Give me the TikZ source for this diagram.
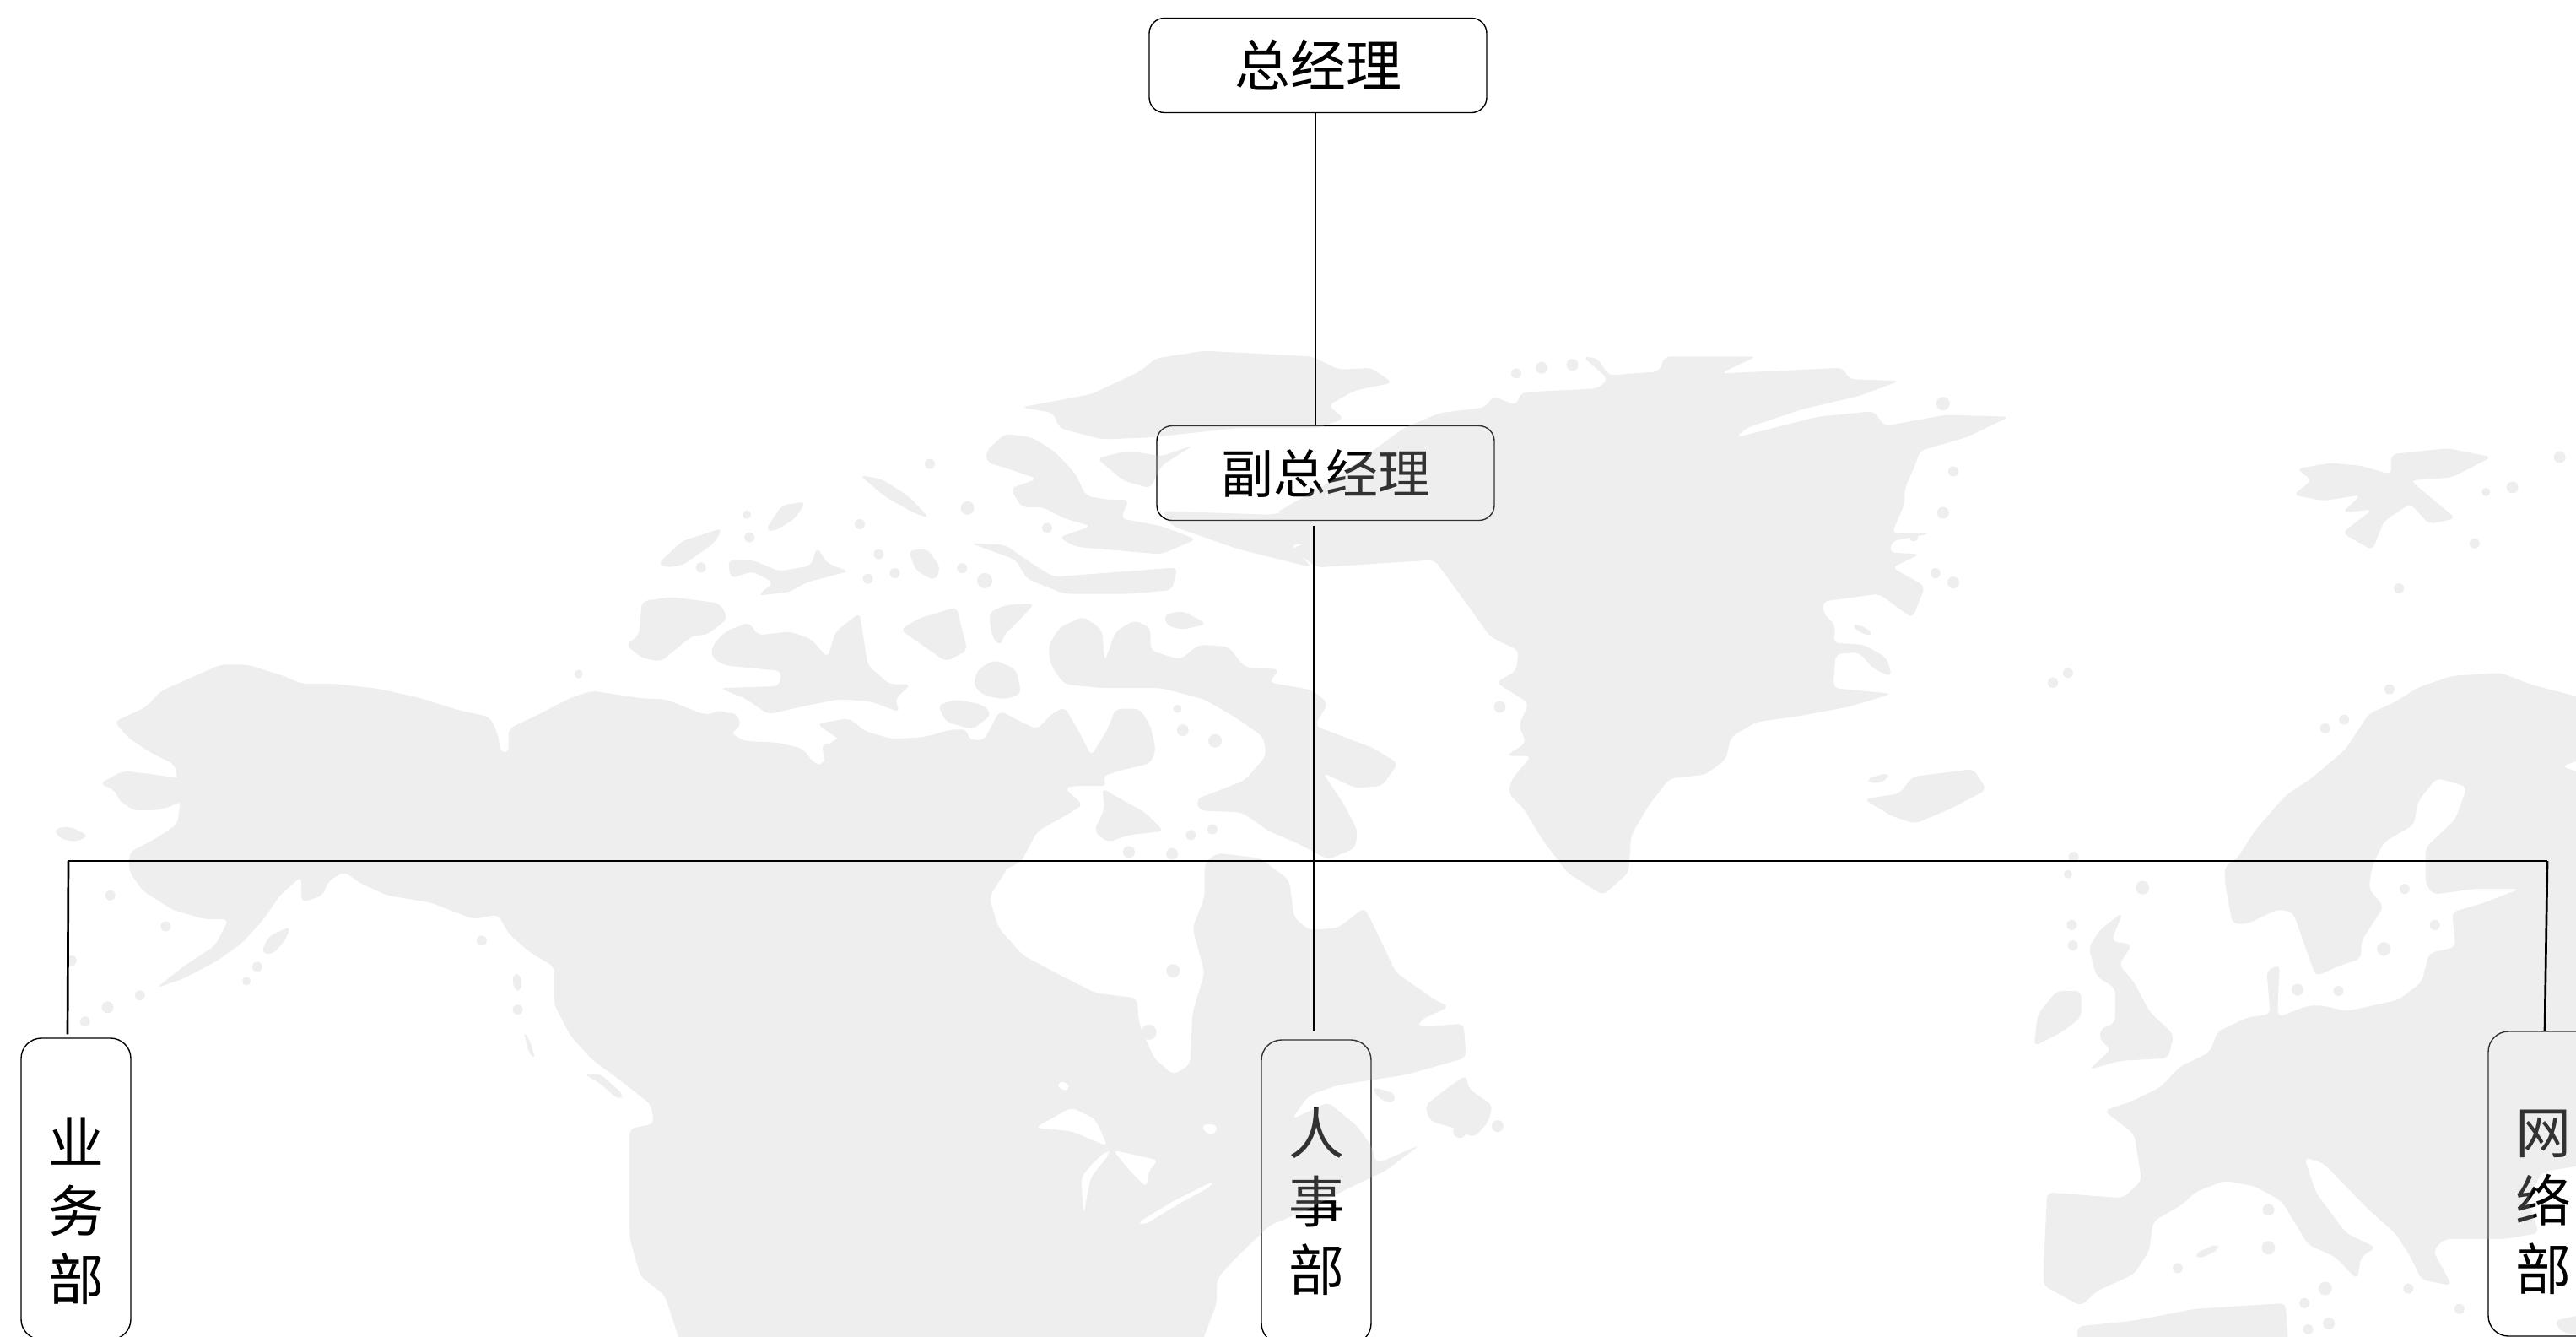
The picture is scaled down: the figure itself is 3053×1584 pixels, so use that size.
\documentclass[tikz,border=0pt]{standalone}
\usepackage{fontspec}
\newfontfamily\cjk{Noto Sans CJK SC}
\definecolor{mapshade}{gray}{0.76}
\newcommand\deptlabel[2]{\raisebox{#1}[0pt][0pt]{\parbox[c]{90pt}{\centering\baselineskip=81pt #2\par}}}
\newcommand\isles[1]{\foreach \a/\b/\r in {#1}{\fill (\a,\b) circle[radius=\r pt];}}
\tikzset{
  topbox/.style={draw=black,line width=1.4pt,rounded corners=18pt,inner sep=0pt,minimum width=400pt,minimum height=112pt,font=\cjk\fontsize{66}{81}\selectfont,text=black},
  deptbox/.style={draw=black,line width=1.4pt,rounded corners=24pt,inner sep=0pt,minimum width=130pt,font=\cjk\fontsize{66}{81}\selectfont,text=black},
  conn/.style={draw=black,line width=2.7pt},
  land/.style={fill=mapshade,rounded corners=7pt,even odd rule}
}
\begin{document}
\begin{tikzpicture}[x=1pt,y=-1pt]
\useasboundingbox (0,0) rectangle (3053,1584);
\fill[white] (0,0) rectangle (3053,1584);
% boxes
\node[topbox] (gm) at (1562,77.5) {总经理};
\node[topbox,font=\cjk\fontsize{62}{81}\selectfont] (dgm) at (1571,560.5) {副总经理};
\node[deptbox,minimum height=357pt] (sales) at (90,1408.5) {\deptlabel{-32pt}{业\\务\\部}};
\node[deptbox,minimum height=360pt] (hr) at (1560,1412) {\deptlabel{-18pt}{人\\事\\部}};
\node[deptbox,minimum height=361pt] (net) at (3014,1402.5) {\deptlabel{-28pt}{网\\络\\部}};
% map watermark, over the boxes and under the connectors
\begin{scope}[transparency group,opacity=.263]
\begin{scope}[land]
% ---- zoom frame 5: Alaska and the west coast
\begin{scope}[shift={(0,700)},x=.6378pt,y=-.5638pt,every path/.style={land}]
\fill (212,275)--(270,245)--(300,210)--(370,175)--(410,155)--(460,155)--(530,180)--(560,195)--(620,195)--(700,205)--(780,225)--(850,250)--(910,265)--(925,300)--(930,340)--(945,340)--(945,290)--(1000,260)--(1060,225)--(1100,210)--(1170,222)--(1240,235)--(1310,262)--(1340,250)--(1375,270)--(1355,295)--(1380,315)--(1440,320)--(1490,330)--(1515,365)--(1530,365)--(1540,320)--(1568,305)--(1600,300)--(1600,1600)--(1270,1600)--(1235,1480)--(1190,1440)--(1170,1360)--(1170,1130)--(1215,1120)--(1210,1080)--(1160,1035)--(1100,985)--(1060,935)--(1030,870)--(1030,790)--(985,760)--(945,720)--(925,680)--(880,690)--(800,655)--(720,640)--(670,615)--(640,590)--(610,610)--(600,640)--(560,655)--(560,600)--(520,640)--(490,690)--(450,740)--(400,780)--(340,815)--(290,835)--(340,790)--(400,745)--(425,690)--(380,690)--(320,670)--(265,630)--(240,590)--(240,550)--(290,520)--(330,490)--(335,440)--(330,400)--(325,365)--(280,340)--(240,310)--cycle;
\fill (185,405)--(230,378)--(280,385)--(340,395)--(345,440)--(300,460)--(250,462)--(220,440)--(215,420)--cycle;
\fill (100,500)--(130,495)--(165,515)--(140,528)--(110,520)--cycle;
\fill (485,760)--(500,725)--(540,705)--(530,735)--(505,765)--cycle;
\fill (952,805)--(968,805)--(970,840)--(955,840)--cycle;
\fill (973,925)--(985,945)--(995,985)--(982,970)--cycle;
\fill (1085,1015)--(1115,1015)--(1160,1060)--(1150,1070)--(1115,1035)--cycle;
\isles{205/640/6,308/705/6,133/777/6,260/850/6,200/875/7,158/905/6,478/790/6,458/820/5,895/735/6,962/880/6,1075/175/5}
\end{scope}
% ---- zoom frame 6: Arctic archipelago
\begin{scope}[shift={(700,400)},x=.638pt,y=-.4464pt,every path/.style={land}]
\fill (0,935)--(60,955)--(140,960)--(210,1000)--(270,995)--(280,1030)--(260,1050)--(270,1070)--(350,1075)--(390,1090)--(415,1140)--(435,1140)--(430,1075)--(480,1085)--(420,1025)--(480,1010)--(510,1045)--(560,1065)--(620,1060)--(670,1040)--(700,1040)--(700,1065)--(730,1070)--(760,990)--(800,1020)--(830,1040)--(855,1000)--(880,980)--(905,1040)--(930,1110)--(960,1040)--(975,985)--(1020,985)--(1040,1030)--(1050,1095)--(1040,1130)--(980,1150)--(950,1165)--(960,1190)--(900,1190)--(880,1195)--(915,1240)--(880,1270)--(830,1310)--(800,1390)--(760,1420)--(730,1500)--(735,1568)--(0,1568)--cycle;
\fill (950,1195)--(985,1225)--(1030,1260)--(1065,1310)--(1000,1320)--(960,1340)--(935,1310)--(955,1250)--cycle;
\fill (850,820)--(870,770)--(915,740)--(950,775)--(955,860)--(975,780)--(1010,750)--(1040,770)--(1040,830)--(1095,855)--(1130,815)--(1185,820)--(1215,875)--(1280,880)--(1260,915)--(1340,935)--(1370,970)--(1345,1030)--(1400,1060)--(1455,1090)--(1500,1130)--(1470,1190)--(1420,1195)--(1360,1155)--(1400,1240)--(1425,1310)--(1420,1355)--(1370,1385)--(1310,1340)--(1260,1310)--(1210,1260)--(1130,1255)--(1125,1225)--(1215,1175)--(1255,1110)--(1250,1060)--(1200,1010)--(1140,960)--(1060,930)--(950,930)--(880,920)--(855,870)--cycle;
\fill (95,700)--(150,688)--(240,705)--(255,745)--(215,790)--(190,790)--(130,860)--(95,850)--(65,815)--(90,790)--cycle;
\fill (225,820)--(250,780)--(295,755)--(310,790)--(370,780)--(410,800)--(440,850)--(455,780)--(500,730)--(505,780)--(515,870)--(555,920)--(595,920)--(565,960)--(575,995)--(520,965)--(460,960)--(390,980)--(330,1000)--(290,960)--(240,930)--(350,925)--(355,885)--(250,870)--(225,850)--cycle;
\fill (575,775)--(610,745)--(680,715)--(690,775)--(700,830)--(660,860)--(620,820)--cycle;
\fill (740,730)--(770,710)--(825,705)--(790,760)--(770,785)--(760,820)--(745,790)--cycle;
\fill (720,880)--(750,855)--(790,880)--(800,945)--(770,960)--(730,950)--(710,920)--cycle;
\fill (645,975)--(680,960)--(730,975)--(745,1000)--(710,1040)--(660,1020)--cycle;
\fill (1065,735)--(1100,725)--(1145,760)--(1100,775)--(1070,765)--cycle;
\fill (705,545)--(770,550)--(820,600)--(860,635)--(1090,610)--(1080,670)--(1000,680)--(880,680)--(810,640)--(790,590)--cycle;
\fill (255,590)--(300,590)--(350,620)--(410,605)--(420,555)--(440,600)--(480,620)--(400,650)--(370,675)--(310,685)--(340,650)--(300,620)--(260,640)--cycle;
\fill (125,600)--(170,540)--(245,505)--(230,545)--(170,605)--(140,610)--cycle;
\fill (325,510)--(355,445)--(400,435)--(380,480)--(340,515)--cycle;
\fill (590,565)--(625,560)--(650,610)--(640,645)--(605,620)--cycle;
\fill (500,365)--(540,375)--(590,420)--(630,480)--(600,465)--(545,420)--cycle;
\fill (735,300)--(770,255)--(820,265)--(860,300)--(900,360)--(920,420)--(960,430)--(1000,430)--(985,480)--(1060,500)--(1125,535)--(1060,575)--(900,555)--(870,530)--(930,500)--(880,480)--(840,450)--(800,450)--(780,400)--(830,375)--(780,350)--(735,330)--cycle;
\fill (800,185)--(930,150)--(1020,90)--(1050,55)--(1140,35)--(1340,50)--(1390,85)--(1450,80)--(1490,120)--(1420,140)--(1370,180)--(1400,215)--(1350,240)--(1200,240)--(1040,265)--(950,270)--(870,240)--(860,200)--cycle;
\fill (940,320)--(1000,300)--(1060,315)--(1120,285)--(1060,340)--(1040,400)--(990,380)--cycle;
\fill (1060,460)--(1265,470)--(1340,445)--(1400,420)--(1400,520)--(1345,545)--(1300,550)--(1340,610)--(1200,560)--(1080,500)--cycle;
\isles{295/530/6,290/470/5,205/610/6,500/495/6,515/640/6,535/575/6,565/625/6,690/612/6,732/645/9,630/335/6,700/452/8,848/505/6,1090/985/5,1100/1042/7,1160/1070/8,1115/1320/6,1155/1305/6,1080/1370/7,1000/1365/7}
\end{scope}
% ---- zoom frame 7: eastern Canada and the United States
\begin{scope}[shift={(1000,950)},x=.5740pt,y=-.4043pt,every path/.style={land}]
\fill (-10,200)--(340,190)--(300,280)--(320,370)--(370,450)--(450,510)--(520,560)--(605,575)--(610,650)--(640,750)--(680,800)--(715,770)--(720,620)--(745,500)--(720,370)--(745,280)--(745,180)--(770,150)--(860,165)--(920,230)--(930,340)--(960,375)--(1020,370)--(1075,310)--(1100,380)--(1140,500)--(1220,580)--(1250,600)--(1190,640)--(1185,660)--(1280,650)--(1285,750)--(1160,800)--(1090,815)--(1020,830)--(960,860)--(925,930)--(1000,880)--(1060,950)--(1090,1010)--(1100,1060)--(1150,1030)--(1190,1005)--(1120,1080)--(1045,1130)--(950,1200)--(880,1240)--(800,1350)--(770,1400)--(770,1470)--(735,1600)--(-10,1600)--cycle
 (395,955)--(470,895)--(520,930)--(545,1010)--(470,965)--cycle
 (545,1020)--(520,1050)--(490,1100)--(495,1210)--(510,1100)--(550,1030)--cycle
 (555,1020)--(650,1050)--(630,1080)--(625,1130)--(590,1080)--cycle
 (605,1235)--(680,1170)--(765,1110)--(760,1125)--(690,1180)--(620,1240)--cycle
 (738,945)--(772,945)--(768,975)--(748,975)--cycle
 (440,820)--(462,820)--(468,845)--(445,845)--cycle;
\fill (1200,890)--(1245,840)--(1285,800)--(1290,840)--(1340,890)--(1330,940)--(1300,985)--(1270,960)--(1210,935)--cycle;
\fill (1090,835)--(1140,855)--(1135,885)--(1105,870)--cycle;
\isles{630/675/9,680/495/8,1272/965/8,1350/950/7}
\end{scope}
% ---- zoom frame 8: Greenland and Iceland
\begin{scope}[shift={(1500,400)},x=.6059pt,y=-.4464pt,every path/.style={land}]
\fill (500,145)--(650,135)--(670,110)--(620,50)--(650,55)--(670,100)--(770,90)--(780,50)--(960,50)--(890,95)--(1130,80)--(1140,110)--(1240,115)--(1160,155)--(1050,190)--(940,240)--(920,265)--(1080,210)--(1190,195)--(1210,235)--(1330,205)--(1455,210)--(1370,265)--(1280,300)--(1270,340)--(1250,400)--(1250,440)--(1225,520)--(1300,520)--(1225,540)--(1220,570)--(1280,575)--(1225,610)--(1290,660)--(1265,745)--(1200,680)--(1090,700)--(1090,730)--(1115,765)--(1110,810)--(1170,815)--(1215,850)--(1225,900)--(1190,880)--(1160,835)--(1115,840)--(1110,930)--(1225,945)--(1140,980)--(1040,1005)--(960,1020)--(910,1060)--(900,1120)--(860,1160)--(790,1170)--(750,1240)--(715,1320)--(710,1420)--(660,1480)--(590,1420)--(540,1330)--(505,1250)--(475,1210)--(480,1175)--(520,1110)--(470,1110)--(510,1075)--(495,1030)--(515,970)--(450,915)--(490,885)--(495,830)--(440,795)--(390,700)--(330,590)--(100,610)--(50,560)--(130,520)--(140,495)--(20,465)--(130,380)--(270,240)--(340,200)--(430,185)--(445,155)--(490,180)--cycle;
\fill (1265,1165)--(1385,1145)--(1410,1200)--(1340,1250)--(1270,1290)--(1225,1270)--(1170,1225)--(1240,1210)--cycle;
\fill (1175,1170)--(1220,1155)--(1215,1175)--(1185,1185)--cycle;
\fill (1145,765)--(1160,760)--(1190,785)--(1175,792)--cycle;
\isles{490/95/6,540/80/7,600/72/7,1325/175/8,1345/355/6,1325/465/7,1310/625/6,1345/650/7,458/980/7,1540/915/6,1268/530/5}
\end{scope}
% ---- zoom frame 9: Europe
\begin{scope}[shift={(2350,500)},x=.4483pt,y=-.6913pt,every path/.style={land}]
\fill (640,760)--(670,750)--(720,700)--(800,640)--(870,610)--(960,560)--(1020,500)--(1090,480)--(1150,455)--(1240,435)--(1370,430)--(1450,450)--(1568,470)--(1620,470)--(1620,570)--(1530,590)--(1620,610)--(1620,1270)--(1480,1285)--(1440,1330)--(1470,1390)--(1380,1400)--(1220,1400)--(1190,1420)--(1240,1480)--(1160,1470)--(1130,1430)--(1090,1390)--(1020,1350)--(900,1270)--(850,1260)--(880,1320)--(960,1390)--(1040,1415)--(1000,1430)--(990,1470)--(930,1430)--(860,1410)--(790,1335)--(720,1310)--(640,1300)--(560,1320)--(530,1340)--(450,1370)--(440,1420)--(400,1460)--(300,1490)--(260,1515)--(160,1480)--(160,1450)--(170,1320)--(370,1330)--(420,1300)--(400,1220)--(320,1180)--(390,1165)--(470,1140)--(520,1105)--(600,1080)--(620,1045)--(700,1020)--(760,1015)--(750,940)--(785,930)--(780,990)--(780,1020)--(860,1000)--(900,1000)--(960,1010)--(1100,990)--(1160,960)--(1180,910)--(1250,900)--(1240,840)--(1320,825)--(1420,800)--(1300,800)--(1190,810)--(1170,790)--(1170,730)--(1250,680)--(1280,625)--(1200,610)--(1150,650)--(1140,690)--(1060,720)--(1030,760)--(1020,800)--(1060,830)--(1000,890)--(1000,920)--(950,930)--(880,950)--(820,840)--(780,835)--(700,860)--(660,860)--(640,790)--cycle;
\fill (1510,1540)--(1620,1525)--(1620,1568)--(1530,1560)--cycle;
\fill (250,1550)--(400,1540)--(560,1520)--(800,1510)--(810,1600)--(250,1600)--cycle;
\fill (280,900)--(310,870)--(370,840)--(340,890)--(395,895)--(360,930)--(400,960)--(440,1010)--(505,1050)--(490,1090)--(360,1095)--(280,1110)--(340,1075)--(310,1060)--(310,1040)--(350,1030)--(350,970)--(300,950)--cycle;
\fill (145,1015)--(195,975)--(260,975)--(260,1020)--(210,1045)--(135,1070)--cycle;
\fill (830,80)--(920,70)--(1000,75)--(1080,90)--(1080,55)--(1230,45)--(1345,60)--(1240,95)--(1130,100)--(1250,165)--(1180,175)--(1130,140)--(1060,170)--(1030,220)--(950,190)--(1030,150)--(950,155)--(1000,125)--(900,135)--(820,125)--(870,100)--cycle;
\fill (560,1425)--(620,1408)--(625,1418)--(570,1435)--cycle;
\isles{1330/120/5,1400/112/7,1300/208/6,1100/285/6,1525/60/7,185/447/6,225/430/6,905/525/6,955/510/6,1075/458/6,240/745/6,225/775/5,422/798/8,235/862/6,238/897/6,755/1350/7,755/1415/8,515/1450/6,905/1485/8,850/1510/6,915/1545/7,860/1555/6,1125/1485/6,1260/1520/6,1115/800/6,1195/862/6,1060/903/8,832/973/7,940/975/6,785/675/6}
\end{scope}
\end{scope}
\end{scope}
% connectors
\coordinate (upper) at (1559,300);
\coordinate (trunk) at (1557,1020);
\coordinate (busl) at (81,1020);
\coordinate (busr) at (3019,1020);
\draw[conn] (gm.south -| upper) -- (dgm.north -| upper);
\draw[conn,shorten <=6pt,shorten >=10pt] (dgm.south -| trunk) -- (hr.north -| trunk);
\draw[conn] (busl) -- (busr);
\draw[conn,shorten >=4pt] (busl) -- ([xshift=-10pt]sales.north);
\draw[conn] (busr) -- ([xshift=2pt]net.north);
\end{tikzpicture}
\end{document}
